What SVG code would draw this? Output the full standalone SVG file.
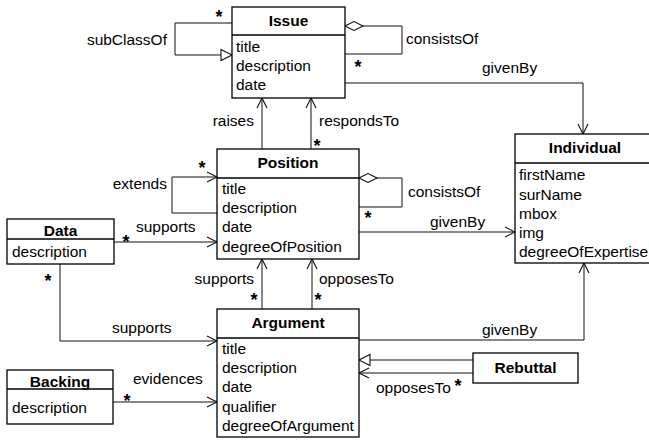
<svg xmlns="http://www.w3.org/2000/svg" width="649" height="441" viewBox="0 0 649 441">
  <style>
    .box { fill: #fff; stroke: #000; stroke-width: 1.3; }
    .div { stroke: #000; stroke-width: 1.3; }
    .ln { fill: none; stroke: #111; stroke-width: 1; }
    text { font-family: "Liberation Sans", Arial, sans-serif; font-size: 15.5px; fill: #000; }
    .title { font-weight: bold; text-anchor: middle; }
    .star { font-weight: bold; font-size: 18px; text-anchor: middle; }
    .end { text-anchor: end; }
  </style>
  <defs>
    <marker id="open" markerUnits="userSpaceOnUse" markerWidth="12" markerHeight="12" refX="10" refY="5" orient="auto" overflow="visible">
      <path d="M0,0 L10,5 L0,10" fill="none" stroke="#111" stroke-width="1.1"/>
    </marker>
    <marker id="gen" markerUnits="userSpaceOnUse" markerWidth="12" markerHeight="12" refX="11" refY="5.5" orient="auto" overflow="visible">
      <path d="M0,0 L11,5.5 L0,11 Z" fill="#fff" stroke="#111" stroke-width="1.1"/>
    </marker>
    <marker id="agg" markerUnits="userSpaceOnUse" markerWidth="20" markerHeight="12" refX="0" refY="5" orient="auto" overflow="visible">
      <path d="M0,5 L9,0.5 L18,5 L9,9.5 Z" fill="#fff" stroke="#111" stroke-width="1.1"/>
    </marker>
  </defs>

  <!-- associations -->
  <g id="connectors">
    <path class="ln" d="M232,23 H175 V55 H232" marker-end="url(#gen)"/>
    <text x="167" y="45" class="end">subClassOf</text>
    <text x="219" y="23" class="star">*</text>

    <path class="ln" d="M345,26 H402 V54 H345" marker-start="url(#agg)"/>
    <text x="406" y="44">consistsOf</text>
    <text x="358" y="73" class="star">*</text>

    <path class="ln" d="M345,83 H583 V134" marker-end="url(#open)"/>
    <text x="482" y="73">givenBy</text>

    <path class="ln" d="M262,149 V98" marker-end="url(#open)"/>
    <text x="254" y="126" class="end">raises</text>
    <path class="ln" d="M311,149 V98" marker-end="url(#open)"/>
    <text x="319" y="126">respondsTo</text>
    <text x="317" y="152" class="star">*</text>

    <path class="ln" d="M217,213 H172 V177 H217" marker-end="url(#open)"/>
    <text x="167" y="189" class="end">extends</text>
    <text x="202" y="174" class="star">*</text>

    <path class="ln" d="M359,178 H402 V207 H359" marker-start="url(#agg)"/>
    <text x="408" y="197">consistsOf</text>
    <text x="368" y="224" class="star">*</text>

    <path class="ln" d="M359,232 H515" marker-end="url(#open)"/>
    <text x="430" y="227">givenBy</text>

    <path class="ln" d="M114,242 H217" marker-end="url(#open)"/>
    <text x="126" y="248" class="star">*</text>
    <text x="136" y="232">supports</text>

    <path class="ln" d="M60,264 V341 H217" marker-end="url(#open)"/>
    <text x="112" y="333">supports</text>
    <text x="48" y="287" class="star">*</text>

    <path class="ln" d="M262,309 V259" marker-end="url(#open)"/>
    <text x="254" y="284" class="end">supports</text>
    <text x="254" y="306" class="star">*</text>
    <path class="ln" d="M312,309 V259" marker-end="url(#open)"/>
    <text x="319" y="284">opposesTo</text>
    <text x="318" y="306" class="star">*</text>

    <path class="ln" d="M359,340 H584 V263" marker-end="url(#open)"/>
    <text x="482" y="335">givenBy</text>

    <path class="ln" d="M473,360 H359" marker-end="url(#gen)"/>
    <path class="ln" d="M473,373 H359" marker-end="url(#open)"/>
    <text x="376" y="393">opposesTo</text>
    <text x="458" y="392" class="star">*</text>

    <path class="ln" d="M113,402 H217" marker-end="url(#open)"/>
    <text x="133" y="384">evidences</text>
    <text x="127" y="407" class="star">*</text>
  </g>

  <g id="issue">
    <rect class="box" x="232" y="7" width="113" height="91"/>
    <line class="div" x1="232" y1="35" x2="345" y2="35"/>
    <text x="288.5" y="26" class="title">Issue</text>
    <text x="236" y="52">title</text>
    <text x="236" y="71">description</text>
    <text x="236" y="90">date</text>
  </g>

  <g id="position">
    <rect class="box" x="217" y="149" width="142" height="110"/>
    <line class="div" x1="217" y1="178" x2="359" y2="178"/>
    <text x="288" y="168" class="title">Position</text>
    <text x="222" y="194">title</text>
    <text x="222" y="213">description</text>
    <text x="222" y="232">date</text>
    <text x="222" y="252">degreeOfPosition</text>
  </g>

  <g id="individual">
    <rect class="box" x="515" y="134" width="140" height="129"/>
    <line class="div" x1="515" y1="163" x2="655" y2="163"/>
    <text x="585" y="153" class="title">Individual</text>
    <text x="519" y="180">firstName</text>
    <text x="519" y="200">surName</text>
    <text x="519" y="219">mbox</text>
    <text x="519" y="238">img</text>
    <text x="519" y="257">degreeOfExpertise</text>
  </g>

  <g id="data">
    <rect class="box" x="7" y="219" width="107" height="45"/>
    <line class="div" x1="7" y1="239" x2="114" y2="239"/>
    <text x="60.5" y="236" class="title">Data</text>
    <text x="12" y="257">description</text>
  </g>

  <g id="argument">
    <rect class="box" x="217" y="309" width="142" height="128"/>
    <line class="div" x1="217" y1="338" x2="359" y2="338"/>
    <text x="288" y="328" class="title">Argument</text>
    <text x="222" y="354">title</text>
    <text x="222" y="373">description</text>
    <text x="222" y="392">date</text>
    <text x="222" y="412">qualifier</text>
    <text x="222" y="431">degreeOfArgument</text>
  </g>

  <g id="rebuttal">
    <rect class="box" x="473" y="353" width="105" height="30"/>
    <text x="525.5" y="373" class="title">Rebuttal</text>
  </g>

  <g id="backing">
    <rect class="box" x="7" y="370" width="106" height="54"/>
    <line class="div" x1="7" y1="389" x2="113" y2="389"/>
    <text x="60" y="387" class="title">Backing</text>
    <text x="12" y="413">description</text>
  </g>
</svg>
